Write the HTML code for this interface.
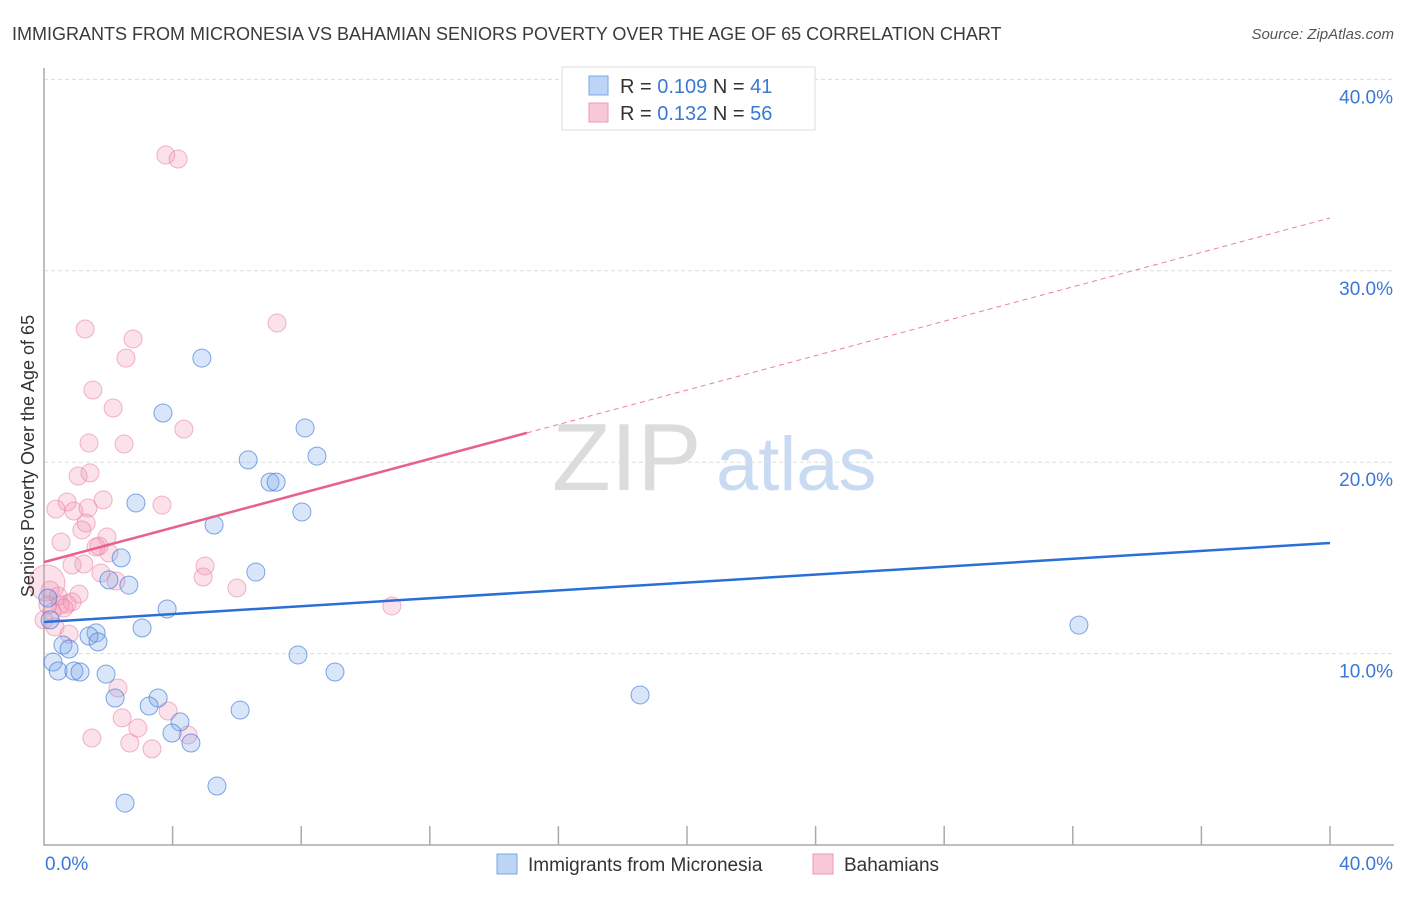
<!DOCTYPE html>
<html><head><meta charset="utf-8"><style>
body{margin:0;background:#fff;font-family:"Liberation Sans",sans-serif}
svg text{font-family:"Liberation Sans",sans-serif}
</style></head><body>
<svg id="chart" width="1406" height="892" xmlns="http://www.w3.org/2000/svg">
<text x="12" y="40" font-size="18" fill="#3a3a3a">IMMIGRANTS FROM MICRONESIA VS BAHAMIAN SENIORS POVERTY OVER THE AGE OF 65 CORRELATION CHART</text>
<text x="1394" y="39" font-size="15" fill="#555" font-style="italic" text-anchor="end">Source: ZipAtlas.com</text>
<g>
<text x="552" y="490" font-size="96" font-family="Liberation Serif" fill="#dcdcdc">ZIP</text>
<text x="716" y="490" font-size="76" fill="#c8dbf3">atlas</text>
</g>
<g id="grid"></g>
<g id="axes"></g>
<g id="marks"></g>
<text transform="translate(34,456) rotate(-90)" font-size="18" fill="#333" text-anchor="middle">Seniors Poverty Over the Age of 65</text>
<g>
<rect x="562" y="67" width="253" height="63" fill="#fff" stroke="#ddd"/>
<rect x="589" y="76" width="19" height="19" fill="#bcd5f6" stroke="#7aa7e6"/>
<rect x="589" y="103" width="19" height="19" fill="#f9c8d7" stroke="#ef9ab5"/>
<text x="620" y="93" font-size="20" fill="#333">R = <tspan fill="#3a78d8">0.109</tspan>   N =  <tspan fill="#3a78d8">41</tspan></text>
<text x="620" y="120" font-size="20" fill="#333">R =  <tspan fill="#3a78d8">0.132</tspan>   N = <tspan fill="#3a78d8">56</tspan></text>
</g>
<g>
<rect x="497" y="854" width="20" height="20" fill="#bcd5f6" stroke="#7aa7e6"/>
<text x="528" y="871" font-size="19" fill="#333">Immigrants from Micronesia</text>
<rect x="813" y="854" width="20" height="20" fill="#f9c8d7" stroke="#ef9ab5"/>
<text x="844" y="871" font-size="19" fill="#333">Bahamians</text>
</g>
</svg>
<script>
const blueX=[4.91,3.70,8.12,6.35,8.49,7.03,7.22,2.86,8.02,5.29,2.40,2.02,2.64,6.59,3.83,3.05,32.19,1.62,1.40,1.68,0.59,0.78,0.28,7.90,0.44,0.93,1.12,1.93,9.05,2.21,3.55,3.27,18.54,6.10,4.23,3.98,4.57,2.52,5.38,0.12,0.19];
const blueY=[25.44,22.57,21.79,20.12,20.32,18.96,18.96,17.87,17.40,16.72,15.0,13.85,13.58,14.26,12.33,11.34,11.49,11.08,10.92,10.61,10.45,10.24,9.56,9.93,9.09,9.09,9.04,8.93,9.04,7.68,7.68,7.26,7.84,7.05,6.43,5.85,5.33,2.19,3.08,12.9,11.76];
const pinkX=[3.79,4.17,1.28,2.77,7.25,2.55,1.52,2.15,1.40,4.35,2.49,1.06,1.43,0.72,1.84,3.67,0.37,0.93,1.37,1.31,1.18,1.96,0.53,1.62,1.71,2.02,0.87,5.01,1.24,1.77,4.95,2.24,6.0,1.09,0.44,0.72,0.09,0.5,0.87,0.62,0.25,10.82,0,0.34,0.78,2.30,2.43,1.49,2.67,2.92,3.36,3.86,4.48,0.19,0.12];
const pinkY=[36.05,35.84,26.96,26.44,27.27,25.44,23.77,22.83,21.0,21.73,20.95,19.28,19.44,17.92,18.03,17.76,17.55,17.45,17.61,16.82,16.46,16.09,15.83,15.57,15.62,15.26,14.63,14.58,14.68,14.21,14.0,13.79,13.43,13.11,13.01,12.59,13.69,12.54,12.7,12.38,12.17,12.49,11.76,11.39,11.02,8.20,6.64,5.59,5.33,6.11,5.02,7.0,5.75,13.32,12.54];
const yTicks=[10,20,30,40];
const yTickLabels=["10.0%","20.0%","30.0%","40.0%"];
const xTickLabels=["0.0%","40.0%"];
const blueTrend=[11.65,15.78];
const pinkTrend=[14.78,32.76];
const pinkSolidEnd=15.02;
const NS="http://www.w3.org/2000/svg";
const X=v=>44+v*32.15, Y=v=>845-v*19.14;
function mk(parent,tag,attrs){const e=document.createElementNS(NS,tag);for(const k in attrs)e.setAttribute(k,attrs[k]);document.getElementById(parent).appendChild(e);return e;}
yTicks.forEach((t,i)=>{
 const g=mk('grid','line',{x1:44,x2:1394,y1:Y(t),y2:Y(t),stroke:'#ddd','stroke-dasharray':'4,3'});
 
 
 const l=mk('grid','text',{x:1393,y:Y(t)+24,'font-size':19,fill:'#3a78d8','text-anchor':'end'});
 l.textContent=yTickLabels[i];
 
 
});
const ax=mk('axes','path',{d:'M44,68V845H1394',fill:'none',stroke:'#aaa','stroke-width':1.5});


for(let i=1;i<=10;i++){const t=mk('axes','line',{x1:X(i*4),x2:X(i*4),y1:826,y2:845,stroke:'#aaa','stroke-width':1.5});
 
 }
const xl0=mk('axes','text',{x:45,y:870,'font-size':19,fill:'#3a78d8'});xl0.textContent=xTickLabels[0];


const xl1=mk('axes','text',{x:1393,y:870,'font-size':19,fill:'#3a78d8','text-anchor':'end'});xl1.textContent=xTickLabels[1];


pinkX.forEach((x,i)=>{const c=mk('marks','circle',{cx:X(x),cy:Y(pinkY[i]),r:i==36?18:9,fill:'rgba(242,150,180,0.28)',stroke:'rgba(235,130,165,0.6)','stroke-width':1});
 
 });
blueX.forEach((x,i)=>{const c=mk('marks','circle',{cx:X(x),cy:Y(blueY[i]),r:9,fill:'rgba(120,165,235,0.28)',stroke:'rgba(60,120,215,0.65)','stroke-width':1});
 
 });
const pv=x=>pinkTrend[0]+(pinkTrend[1]-pinkTrend[0])*x/40;
const pd=mk('marks','line',{x1:X(pinkSolidEnd),y1:Y(pv(pinkSolidEnd)),x2:X(40),y2:Y(pinkTrend[1]),stroke:'#e8809f','stroke-width':1,'stroke-dasharray':'5,4'});


const ps=mk('marks','line',{x1:X(0),y1:Y(pinkTrend[0]),x2:X(pinkSolidEnd),y2:Y(pv(pinkSolidEnd)),stroke:'#e8608c','stroke-width':2.5});


const bl=mk('marks','line',{x1:X(0),y1:Y(blueTrend[0]),x2:X(40),y2:Y(blueTrend[1]),stroke:'#2a6fd6','stroke-width':2.5});


</script>
</body></html>
